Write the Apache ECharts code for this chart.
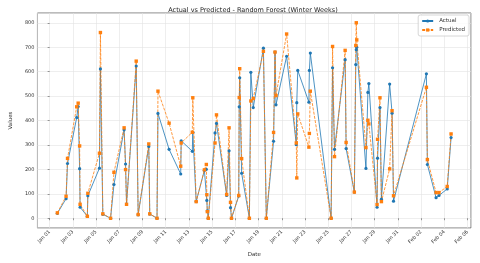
<!DOCTYPE html>
<html><head><meta charset="utf-8">
<script src="https://cdn.jsdelivr.net/npm/echarts@6/dist/echarts.min.js"></script>
<style>html,body{margin:0;padding:0;background:#fff}#c{width:480px;height:263px}</style>
</head><body><div id="c"></div>
<script>
const times = [
 '2024-01-01T16:00','2024-01-02T10:00','2024-01-02T13:00','2024-01-03T08:00','2024-01-03T11:00',
 '2024-01-03T14:00','2024-01-03T15:00','2024-01-04T06:00','2024-01-04T07:00','2024-01-05T07:00',
 '2024-01-05T09:00','2024-01-05T14:00','2024-01-06T06:00','2024-01-06T13:00','2024-01-07T10:00',
 '2024-01-07T13:00','2024-01-07T15:00','2024-01-08T11:00','2024-01-08T15:00','2024-01-09T13:00',
 '2024-01-09T15:00','2024-01-10T06:00','2024-01-10T08:00','2024-01-11T07:00','2024-01-12T07:00',
 '2024-01-12T08:00','2024-01-13T07:00','2024-01-13T08:00','2024-01-13T15:00','2024-01-14T08:00',
 '2024-01-14T12:00','2024-01-14T13:00','2024-01-14T14:00','2024-01-14T16:00','2024-01-15T06:00',
 '2024-01-15T09:00','2024-01-16T06:00','2024-01-16T11:00','2024-01-16T14:00','2024-01-16T16:00',
 '2024-01-17T07:00','2024-01-17T08:00','2024-01-17T09:00','2024-01-17T13:00','2024-01-18T05:00',
 '2024-01-18T08:00','2024-01-18T13:00','2024-01-19T10:00','2024-01-19T16:00','2024-01-20T07:00',
 '2024-01-20T10:00','2024-01-20T12:00','2024-01-21T10:00','2024-01-22T06:00','2024-01-22T07:00',
 '2024-01-22T09:00','2024-01-23T08:00','2024-01-23T09:00','2024-01-23T11:00','2024-01-25T06:00',
 '2024-01-25T09:00','2024-01-25T13:00','2024-01-26T11:00','2024-01-26T13:00','2024-01-27T06:00',
 '2024-01-27T09:00','2024-01-27T10:00','2024-01-27T11:00','2024-01-28T06:00','2024-01-28T10:00',
 '2024-01-28T12:00','2024-01-29T05:00','2024-01-29T06:00','2024-01-29T11:00','2024-01-29T14:00',
 '2024-01-30T07:00','2024-01-30T12:00','2024-01-30T15:00','2024-02-02T11:00','2024-02-02T13:00',
 '2024-02-03T07:00','2024-02-03T13:00','2024-02-04T06:00','2024-02-04T14:00'
];
const actual = [
 20, 80, 224, 412, 457,
 203, 45, 8, 92, 205,
 611, 16, 0, 138, 362,
 222, 58, 623, 14, 294,
 17, 0, 429, 282, 181,
 317, 274, 352, 68, 196,
 200, 73, 30, 0, 349,
 388, 93, 276, 43, 0,
 91, 456, 575, 184, 0,
 597, 453, 696, 0, 315,
 680, 464, 663, 301, 473,
 605, 475, 605, 676, 0,
 616, 282, 649, 285, 107,
 629, 690, 700, 204, 515,
 551, 45, 246, 453, 78,
 549, 430, 70, 591, 220,
 84, 93, 120, 330
];
const predicted = [
 22, 90, 245, 456, 471,
 296, 57, 8, 102, 266,
 760, 18, 0, 188, 370,
 199, 57, 643, 15, 304,
 18, 0, 520, 389, 213,
 308, 352, 493, 68, 198,
 220, 96, 27, 0, 308,
 423, 97, 370, 65, 0,
 93, 494, 612, 244, 0,
 480, 490, 683, 0, 351,
 680, 502, 754, 308, 165,
 427, 291, 347, 520, 0,
 703, 252, 687, 310, 107,
 707, 800, 730, 289, 401,
 386, 56, 323, 493, 68,
 202, 440, 92, 536, 240,
 105, 105, 130, 345
];
const xTickLabels = ['Jan 01','Jan 03','Jan 05','Jan 07','Jan 09','Jan 11','Jan 13','Jan 15','Jan 17',
 'Jan 19','Jan 21','Jan 23','Jan 25','Jan 27','Jan 29','Jan 31','Feb 02','Feb 04','Feb 06'];

const t0 = Date.parse('2024-01-01T00:00:00Z');
const days = times.map(t => (Date.parse(t + ':00Z') - t0) / 86400000);
const actualData = days.map((d, i) => [d, actual[i]]);
const predData = days.map((d, i) => [d, predicted[i]]);

const chart = echarts.init(document.getElementById('c'), null, {renderer: 'canvas'});
const fontFam = 'DejaVu Sans';
chart.setOption({
  animation: false,
  backgroundColor: '#fff',
  title: {
    text: 'Actual vs Predicted - Random Forest (Winter Weeks)',
    left: 248, top: 2, textAlign: 'center',
    textStyle: {fontSize: 6.5, fontWeight: 'normal', color: '#222', fontFamily: fontFam}
  },
  legend: {
    orient: 'vertical', right: 11, top: 15,
    itemWidth: 11, itemHeight: 4, itemGap: 3,
    padding: [3, 4, 3, 3],
    borderColor: '#ccc', borderWidth: 0.8, borderRadius: 2,
    backgroundColor: 'rgba(255,255,255,0.8)',
    textStyle: {fontSize: 5.5, color: '#333', fontFamily: fontFam, padding: [0, 0, 0, 1]},
    data: ['Actual', 'Predicted']
  },
  grid: {left: 26, right: 9, top: 13, bottom: 30, show: true, borderColor: '#555', borderWidth: 0.8, backgroundColor: 'transparent'},
  xAxis: {
    type: 'value', min: -1.05, max: 36.3, splitNumber: 18, minInterval: 2, maxInterval: 2,
    name: 'Date', nameLocation: 'middle', nameGap: 24,
    nameTextStyle: {fontSize: 5.5, color: '#333', fontFamily: fontFam},
    axisLine: {show: false},
    axisTick: {show: true, length: 2, lineStyle: {color: '#555', width: 0.6}},
    axisLabel: {
      rotate: 45, fontSize: 5, color: '#333', margin: 3, fontFamily: fontFam,
      showMinLabel: false, showMaxLabel: false,
      formatter: v => {
        const k = Math.round(v / 2);
        return Math.abs(v - 2 * k) < 1e-6 && k >= 0 && k < xTickLabels.length ? xTickLabels[k] : '';
      }
    },
    splitLine: {show: true, lineStyle: {color: '#e2e2e2', width: 0.6}}
  },
  yAxis: {
    type: 'value', min: -40, max: 840, splitNumber: 9, minInterval: 100, maxInterval: 100,
    name: 'Values', nameLocation: 'middle', nameGap: 18,
    nameTextStyle: {fontSize: 5.5, color: '#333', fontFamily: fontFam},
    axisLine: {show: false},
    axisTick: {show: true, length: 2, lineStyle: {color: '#555', width: 0.6}},
    axisLabel: {
      fontSize: 5, color: '#333', margin: 3, fontFamily: fontFam,
      showMinLabel: false, showMaxLabel: false,
      formatter: v => (Math.abs(v % 100) < 1e-6 ? String(v) : '')
    },
    splitLine: {show: true, lineStyle: {color: '#e2e2e2', width: 0.6}}
  },
  series: [
    {
      name: 'Actual', type: 'line', data: actualData,
      symbol: 'circle', symbolSize: 3.2, showAllSymbol: true,
      itemStyle: {color: '#1f77b4'},
      lineStyle: {color: '#1f77b4', width: 0.8},
      emphasis: {disabled: true}
    },
    {
      name: 'Predicted', type: 'line', data: predData,
      symbol: 'rect', symbolSize: 3.4, showAllSymbol: true,
      itemStyle: {color: '#ff7f0e'},
      lineStyle: {color: '#ff7f0e', width: 0.8, type: [3, 1.3]},
      emphasis: {disabled: true}
    }
  ]
});
</script>
</body></html>
